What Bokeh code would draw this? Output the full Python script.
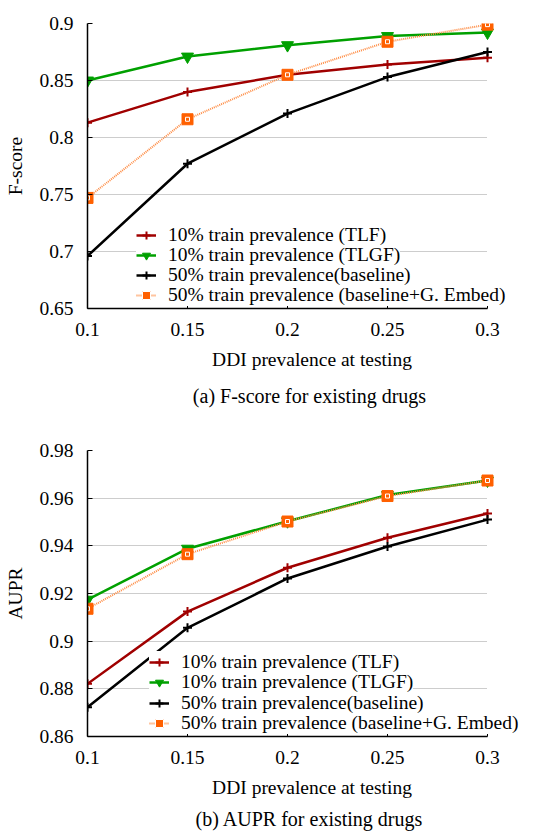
from bokeh.plotting import figure
from bokeh.layouts import column
from bokeh.models import Legend, LegendItem, Title, FixedTicker, Range1d
from bokeh.embed import file_html
from bokeh.resources import INLINE

x_vals = [0.1, 0.15, 0.2, 0.25, 0.3]
x_ticks = [0.1, 0.15, 0.2, 0.25, 0.3]

# F-score panel
f_tlf = [0.813, 0.840, 0.855, 0.864, 0.870]
f_tlgf = [0.850, 0.871, 0.881, 0.889, 0.892]
f_base = [0.696, 0.777, 0.821, 0.853, 0.875]
f_gemb = [0.747, 0.816, 0.855, 0.884, 0.899]
f_yticks = [0.65, 0.7, 0.75, 0.8, 0.85, 0.9]

# AUPR panel
a_tlf = [0.8821, 0.9124, 0.9308, 0.9434, 0.9536]
a_tlgf = [0.9174, 0.9388, 0.9503, 0.9613, 0.9674]
a_base = [0.8723, 0.9056, 0.9263, 0.9397, 0.9510]
a_gemb = [0.9136, 0.9365, 0.9502, 0.9609, 0.9674]
a_yticks = [0.86, 0.88, 0.90, 0.92, 0.94, 0.96, 0.98]

names = ["10% train prevalence (TLF)", "10% train prevalence (TLGF)",
         "50% train prevalence(baseline)", "50% train prevalence (baseline+G. Embed)"]

FONT = "Liberation Serif"
RED = "#a00000"
GREEN = "#00a000"
BLACK = "#000000"
ORANGE = "#ff6000"
ORANGE_LINE = "#ff8a40"

X_START, X_END = 0.1, 0.3
X_PAD = 0.0245  # extra room to the right so the legend text is not clipped


def make_panel(ys, yticks, ylabel, caption, top_border, frame_h, height, leg_x, leg_ys,
               cap_standoff):
    bottom_border = height - top_border - frame_h
    p = figure(width=536, height=height, output_backend="svg", toolbar_location=None,
               x_range=Range1d(X_START, X_END + X_PAD), y_range=Range1d(yticks[0], yticks[-1]),
               min_border_left=87, min_border_right=0, min_border_top=top_border,
               min_border_bottom=bottom_border)
    p.outline_line_color = None
    p.background_fill_color = "white"
    p.xgrid.grid_line_color = None
    p.ygrid.grid_line_color = "#9a9a9a"
    p.ygrid.grid_line_dash = "1 1"
    p.ygrid.grid_line_width = 1
    p.ygrid.cross_bounds = (X_START, X_END)
    p.xaxis.bounds = (X_START, X_END)
    p.xaxis.ticker = FixedTicker(ticks=x_ticks)
    p.yaxis.ticker = FixedTicker(ticks=yticks)
    p.xaxis.major_label_overrides = {t: ("%g" % t) for t in x_ticks}
    p.yaxis.major_label_overrides = {t: ("%g" % t) for t in yticks}
    for ax in (p.xaxis, p.yaxis):
        ax.axis_line_width = 1.5
        ax.axis_line_color = "black"
        ax.major_tick_in = 5
        ax.major_tick_out = 0
        ax.minor_tick_in = 0
        ax.minor_tick_out = 0
        ax.major_tick_line_color = "black"
        ax.major_label_text_font = FONT
        ax.major_label_text_font_size = "19.5px"
        ax.major_label_text_color = "black"
        ax.axis_label_text_font = FONT
        ax.axis_label_text_font_size = "19.5px"
        ax.axis_label_text_font_style = "normal"
        ax.axis_label_text_color = "black"
    p.yaxis.major_label_standoff = 14
    p.xaxis.major_label_standoff = 14
    p.yaxis.axis_label = ylabel
    p.xaxis.axis_label = "DDI prevalence at testing"
    p.yaxis.axis_label_standoff = 10
    p.xaxis.axis_label_standoff = 10

    tlf, tlgf, base, gemb = ys
    r1 = p.line(x_vals, tlf, line_color=RED, line_width=2.5)
    m1 = p.scatter(x_vals, tlf, marker="cross", size=9, line_color=RED, line_width=2)
    r2 = p.line(x_vals, tlgf, line_color=GREEN, line_width=2.5)
    m2 = p.scatter(x_vals, tlgf, marker="inverted_triangle", size=12, fill_color=GREEN, line_color=GREEN)
    r3 = p.line(x_vals, base, line_color=BLACK, line_width=2.5)
    m3 = p.scatter(x_vals, base, marker="cross", size=9, line_color=BLACK, line_width=2)
    r4 = p.line(x_vals, gemb, line_color=ORANGE_LINE, line_width=2, line_dash="1 1")
    m4 = p.scatter(x_vals, gemb, marker="square", size=11, fill_color=ORANGE, line_color=ORANGE)
    m4b = p.scatter(x_vals, gemb, marker="square", size=4, fill_color=None, line_color="white", line_width=1)

    entries = [(names[0], [r1, m1]), (names[1], [r2, m2]),
               (names[2], [r3, m3]), (names[3], [r4, m4, m4b])]
    # one legend per row (bottom row first) so the rows sit 20px apart as in the reference
    for (label, rends), ly in reversed(list(zip(entries, leg_ys))):
        lg = Legend(items=[LegendItem(label=label, renderers=rends)], location=(leg_x, ly))
        lg.label_text_font = FONT
        lg.label_text_font_size = "19.5px"
        lg.label_text_color = "black"
        lg.label_height = 22
        lg.glyph_height = 22
        lg.glyph_width = 20
        lg.label_standoff = 12
        lg.spacing = 0
        lg.padding = 0
        lg.margin = 0
        lg.border_line_color = None
        lg.background_fill_color = "white"
        lg.background_fill_alpha = 1
        p.add_layout(lg, "center")

    cap = Title(text=caption, align="center", text_font=FONT, text_font_size="20px",
                text_font_style="normal", text_color="black", standoff=cap_standoff)
    p.add_layout(cap, "below")
    return p


p1 = make_panel((f_tlf, f_tlgf, f_base, f_gemb), f_yticks, "F-score",
                "(a)  F-score for existing drugs", 23, 285, 425, 49, [62, 42, 22, 2], 20)
p2 = make_panel((a_tlf, a_tlgf, a_base, a_gemb), a_yticks, "AUPR",
                "(b)  AUPR for existing drugs", 25, 286, 412, 62, [63, 43, 22, 2], 11)

layout = column(p1, p2, spacing=0)
open("out.html", "w").write(file_html(layout, INLINE))
